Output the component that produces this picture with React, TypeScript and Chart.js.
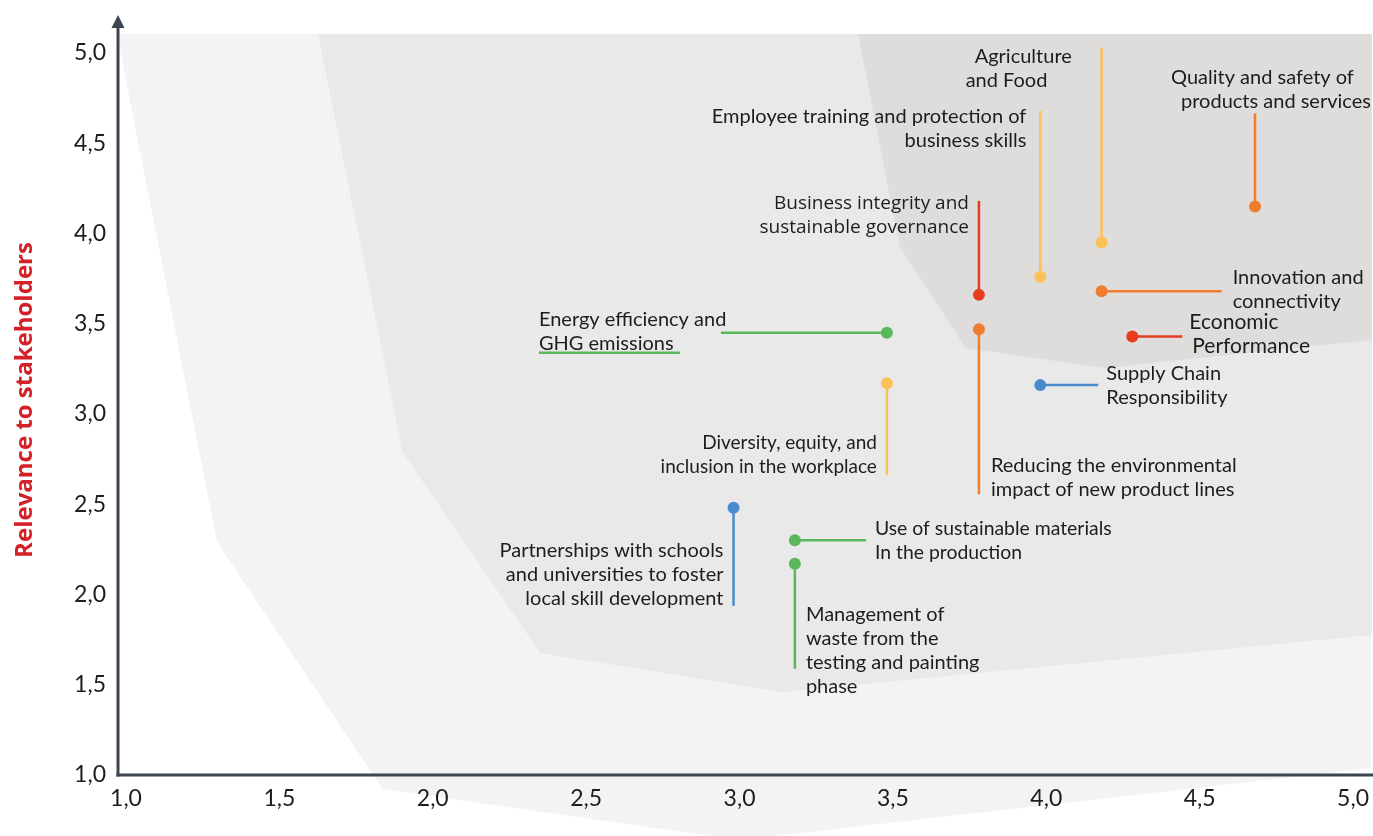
import { useEffect, useRef } from "react";
import { Chart, registerables } from "chart.js";

Chart.register(...registerables);

// ---------- data ----------
const topics = [
  "Agriculture and Food",
  "Employee training and protection of business skills",
  "Quality and safety of products and services",
  "Business integrity and sustainable governance",
  "Innovation and connectivity",
  "Economic Performance",
  "Reducing the environmental impact of new product lines",
  "Energy efficiency and GHG emissions",
  "Supply Chain Responsibility",
  "Diversity, equity, and inclusion in the workplace",
  "Partnerships with schools and universities to foster local skill development",
  "Use of sustainable materials In the production",
  "Management of waste from the testing and painting phase",
];
const importance = [4.2, 4.0, 4.7, 3.8, 4.2, 4.3, 3.8, 3.5, 4.0, 3.5, 3.0, 3.2, 3.2];
const relevance = [3.95, 3.76, 4.15, 3.66, 3.68, 3.43, 3.47, 3.45, 3.16, 3.17, 2.48, 2.3, 2.17];

const YELLOW = "#fdc15a";
const ORANGE = "#ef7d2f";
const RED = "#e63d1e";
const GREEN = "#5bb75b";
const BLUE = "#4a8bcb";
const topicColors = [YELLOW, YELLOW, ORANGE, RED, ORANGE, RED, ORANGE, GREEN, BLUE, YELLOW, BLUE, GREEN, GREEN];

const xTickLabels = ["1,0", "1,5", "2,0", "2,5", "3,0", "3,5", "4,0", "4,5", "5,0"];
const yTickLabels = ["1,0", "1,5", "2,0", "2,5", "3,0", "3,5", "4,0", "4,5", "5,0"];
const yTitle = "Relevance to stakeholders";

// background zones (data coordinates)
const outerZone = [
  { x: 0.99, y: 5.105 }, { x: 5.08, y: 5.105 }, { x: 5.08, y: 1.039 },
  { x: 3.734, y: 0.778 }, { x: 3.018, y: 0.64 }, { x: 1.856, y: 0.922 }, { x: 1.316, y: 2.291 },
];
const middleZone = [
  { x: 1.645, y: 5.105 }, { x: 5.08, y: 5.105 }, { x: 5.08, y: 1.776 },
  { x: 3.158, y: 1.46 }, { x: 2.37, y: 1.676 }, { x: 1.921, y: 2.789 },
];
const innerZone = [
  { x: 3.406, y: 5.105 }, { x: 5.08, y: 5.105 }, { x: 5.08, y: 3.41 },
  { x: 4.21, y: 3.255 }, { x: 3.757, y: 3.366 }, { x: 3.542, y: 3.925 },
];

// ---------- label layout (pixel offsets from each point) ----------
type Layout = {
  lines: string[];
  leader: [number, number];
  tx: number;
  ty: number;
  align: CanvasTextAlign;
  lineDx?: number[];
  size?: number;
  family?: string;
  underline?: [number, number, number];
};
const layouts: Layout[] = [
  { lines: ["Agriculture", "and Food"], leader: [0, -195], tx: 0, ty: -186, align: "left", lineDx: [-127, -136] },
  { lines: ["Employee training and protection of", "business skills"], leader: [0, -166], tx: -14, ty: -160, align: "right" },
  { lines: ["Quality and safety of", "products and services"], leader: [0, -93], tx: 0, ty: -129, align: "left", lineDx: [-84, -74] },
  { lines: ["Business integrity and", "sustainable governance"], leader: [0, -94], tx: -10, ty: -91, align: "right", family: "Open Sans", size: 19 },
  { lines: ["Innovation and", "connectivity"], leader: [120, 0], tx: 131, ty: -14, align: "left" },
  { lines: ["Economic", "Performance"], leader: [50, 0], tx: 57, ty: -14, align: "left", lineDx: [0, 3], size: 21 },
  { lines: ["Reducing the environmental", "impact of new product lines"], leader: [0, 165], tx: 12, ty: 136, align: "left" },
  { lines: ["Energy efficiency and", "GHG emissions"], leader: [-166, 0], tx: -348, ty: -13, align: "left", underline: [-348, -207, 20] },
  { lines: ["Supply Chain", "Responsibility"], leader: [58, 0], tx: 66, ty: -12, align: "left" },
  { lines: ["Diversity, equity, and", "inclusion in the workplace"], leader: [0, 92], tx: -10, ty: 60, align: "right", size: 19 },
  { lines: ["Partnerships with schools", "and universities to foster", "local skill development"], leader: [0, 98], tx: -10, ty: 43, align: "right" },
  { lines: ["Use of sustainable materials", "In the production"], leader: [71, 0], tx: 80, ty: -12, align: "left", size: 19.4 },
  { lines: ["Management of", "waste from the", "testing and painting", "phase"], leader: [0, 105], tx: 11, ty: 51, align: "left" },
];

const AXIS = "#3c4650";
const TEXT = "#1d1d1b";
const FONT = "Lato";

export default function App() {
  const ref = useRef<HTMLCanvasElement>(null);

  useEffect(() => {
    const canvas = ref.current!;
    const toPx = (chart: any, x: number, y: number) => [
      chart.scales.x.getPixelForValue(x),
      chart.scales.y.getPixelForValue(y),
    ];

    const decor = {
      id: "decor",
      beforeDraw(chart: any) {
        const ctx = chart.ctx;
        ctx.save();
        const zones: [{ x: number; y: number }[], string][] = [
          [outerZone, "#f3f3f3"],
          [middleZone, "#e9e9e9"],
          [innerZone, "#dedddb"],
        ];
        zones.forEach(([pts, color]) => {
          ctx.beginPath();
          pts.forEach((p, i) => {
            const [a, b] = toPx(chart, p.x, p.y);
            if (i === 0) ctx.moveTo(a, b);
            else ctx.lineTo(a, b);
          });
          ctx.closePath();
          ctx.fillStyle = color;
          ctx.fill();
        });
        ctx.restore();
      },
      beforeDatasetsDraw(chart: any) {
        const ctx = chart.ctx;
        const { left, bottom } = chart.chartArea;
        ctx.save();
        // axes
        const ax = left - 2;
        ctx.strokeStyle = AXIS;
        ctx.fillStyle = AXIS;
        ctx.lineWidth = 3;
        ctx.beginPath();
        ctx.moveTo(ax, bottom + 1.5);
        ctx.lineTo(ax, 26);
        ctx.stroke();
        ctx.beginPath();
        ctx.moveTo(ax - 1.5, bottom);
        ctx.lineTo(chart.width, bottom);
        ctx.stroke();
        ctx.beginPath();
        ctx.moveTo(ax, 15);
        ctx.lineTo(ax + 6.5, 28);
        ctx.lineTo(ax - 6.5, 28);
        ctx.closePath();
        ctx.fill();
        // leaders
        ctx.lineWidth = 2.5;
        layouts.forEach((l, i) => {
          const [px, py] = toPx(chart, importance[i], relevance[i]);
          ctx.strokeStyle = topicColors[i];
          ctx.beginPath();
          ctx.moveTo(px, py);
          ctx.lineTo(px + l.leader[0], py + l.leader[1]);
          ctx.stroke();
          if (l.underline) {
            const [a, b, dy] = l.underline;
            ctx.beginPath();
            ctx.moveTo(px + a, py + dy);
            ctx.lineTo(px + b, py + dy);
            ctx.stroke();
          }
        });
        ctx.restore();
      },
      afterDatasetsDraw(chart: any) {
        const ctx = chart.ctx;
        ctx.save();
        ctx.fillStyle = TEXT;
        ctx.textBaseline = "middle";
        layouts.forEach((l, i) => {
          const [px, py] = toPx(chart, importance[i], relevance[i]);
          ctx.font = `${l.size ?? 20}px "${l.family ?? FONT}"`;
          ctx.textAlign = l.align;
          l.lines.forEach((line, k) => {
            const dx = l.lineDx ? l.lineDx[k] : 0;
            ctx.fillText(line, px + l.tx + dx, py + l.ty + k * 24);
          });
        });
        // y title
        ctx.translate(25, 400);
        ctx.rotate(-Math.PI / 2);
        ctx.textAlign = "center";
        ctx.fillStyle = "#d42027";
        ctx.font = `bold 24px "Open Sans"`;
        ctx.fillText(yTitle, 0, 0);
        ctx.restore();
      },
    };

    const chart = new Chart(canvas, {
      type: "scatter",
      data: {
        datasets: [
          {
            label: "Topics",
            data: importance.map((x, i) => ({ x, y: relevance[i] })),
            pointBackgroundColor: topicColors,
            pointBorderWidth: 0,
            pointRadius: 6,
            pointHoverRadius: 6,
            clip: false as any,
          },
        ],
      },
      options: {
        animation: false,
        responsive: false,
        devicePixelRatio: 1,
        layout: { padding: { top: 53, right: 23, left: 0, bottom: 0 } },
        plugins: { legend: { display: false }, tooltip: { enabled: false } },
        scales: {
          x: {
            type: "linear",
            min: 1,
            max: 5,
            grid: { display: false, drawTicks: false },
            border: { display: false },
            ticks: {
              stepSize: 0.5,
              padding: 10,
              labelOffset: 6,
              color: TEXT,
              font: { family: FONT, size: 23 },
              callback: (_v: any, i: number) => xTickLabels[i],
            },
            afterFit: (s: any) => {
              s.height = 61;
            },
          },
          y: {
            type: "linear",
            min: 1,
            max: 5,
            grid: { display: false, drawTicks: false },
            border: { display: false },
            ticks: {
              stepSize: 0.5,
              padding: 14,
              color: TEXT,
              font: { family: FONT, size: 23 },
              callback: (_v: any, i: number) => yTickLabels[i],
            },
            afterFit: (s: any) => {
              s.width = 120;
            },
          },
        },
      },
      plugins: [decor],
    });
    return () => chart.destroy();
  }, []);

  return (
    <div style={{ position: "absolute", left: 0, top: 0, width: 1373, height: 836, background: "#fff" }}>
      <canvas ref={ref} width={1373} height={836} style={{ display: "block" }} />
    </div>
  );
}
